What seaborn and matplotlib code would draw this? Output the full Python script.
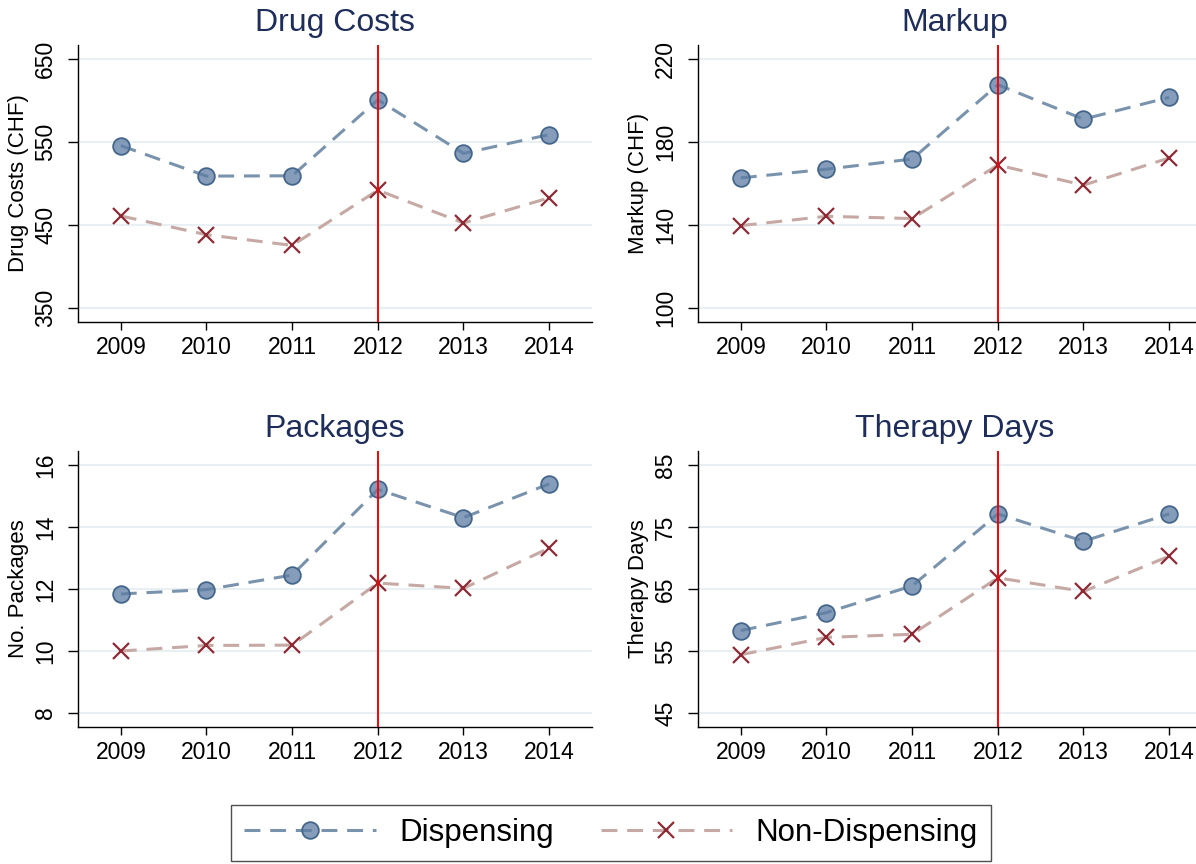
import pandas as pd
import matplotlib.pyplot as plt
import seaborn as sns

# values
years = [2009, 2010, 2011, 2012, 2013, 2014]

drug_costs_disp = [545.6, 508.9, 509.3, 600.8, 536.3, 558.9]
drug_costs_nondisp = [460.9, 438.3, 425.4, 492.0, 452.4, 482.7]
markup_disp = [162.7, 166.9, 171.8, 207.6, 191.0, 201.5]
markup_nondisp = [139.7, 144.2, 143.1, 168.9, 159.2, 172.3]
packages_disp = [11.84, 11.98, 12.45, 15.21, 14.30, 15.39]
packages_nondisp = [10.00, 10.18, 10.19, 12.19, 12.02, 13.32]
therapy_disp = [58.3, 61.2, 65.5, 77.1, 72.7, 77.1]
therapy_nondisp = [54.4, 57.2, 57.7, 66.8, 64.6, 70.3]

titles = ['Drug Costs', 'Markup', 'Packages', 'Therapy Days']
ylabels = ['Drug Costs (CHF)', 'Markup (CHF)', 'No. Packages', 'Therapy Days']
yticks = [[350, 450, 550, 650], [100, 140, 180, 220], [8, 10, 12, 14, 16], [45, 55, 65, 75, 85]]
groups = ['Dispensing', 'Non-Dispensing']
reform_year = 2012

panels = [
    (drug_costs_disp, drug_costs_nondisp),
    (markup_disp, markup_nondisp),
    (packages_disp, packages_nondisp),
    (therapy_disp, therapy_nondisp),
]

sns.set_style('white')
plt.rcParams['font.family'] = ['Liberation Sans', 'DejaVu Sans']
plt.rcParams['text.color'] = 'black'
plt.rcParams['axes.labelcolor'] = 'black'
plt.rcParams['xtick.color'] = 'black'
plt.rcParams['ytick.color'] = 'black'

W, H = 1196, 864
fig = plt.figure(figsize=(W / 100, H / 100), dpi=100)

# axes boxes in pixels: left, top, width, height
boxes = [(78, 45, 514, 277), (698, 45, 514, 277),
         (78, 451, 514, 276), (698, 451, 514, 276)]

styles = {
    'Dispensing': dict(color='#7a93ad', marker='o', markersize=12,
                       markerfacecolor=(0.36, 0.49, 0.64, 0.75),
                       markeredgecolor='#44668c', markeredgewidth=1.3),
    'Non-Dispensing': dict(color='#c6a9a4', marker='x', markersize=11,
                           markeredgecolor='#8e2a35', markeredgewidth=1.6),
}

for i, (disp, nondisp) in enumerate(panels):
    l, t, w, h = boxes[i]
    ax = fig.add_axes([l / W, 1 - (t + h) / H, w / W, h / H])
    df = pd.DataFrame({'year': years * 2,
                       'value': disp + nondisp,
                       'group': [groups[0]] * 6 + [groups[1]] * 6})
    for g in groups:
        sns.lineplot(data=df[df['group'] == g], x='year', y='value', ax=ax,
                     errorbar=None, legend=False, label=g,
                     linewidth=2.2, linestyle=(0, (5.2, 3.2)), **styles[g])
    ax.axvline(reform_year, color='#ff0000', lw=1.4, zorder=4)

    lo, hi = yticks[i][0], yticks[i][-1]
    d = (hi - lo) * 0.0562
    ax.set_ylim(lo - d, hi + d)
    ax.set_yticks(yticks[i])
    ax.set_xlim(2008.5, 2014.5)
    ax.set_xticks(years)

    ax.yaxis.grid(True, color='#e9f0f3', lw=1.5)
    ax.xaxis.grid(False)
    ax.set_axisbelow(True)
    sns.despine(ax=ax)
    for s in ['left', 'bottom']:
        ax.spines[s].set_color('black')
        ax.spines[s].set_linewidth(1.0)

    ax.tick_params(axis='y', left=True, length=7, width=1, color='black',
                   labelcolor='black', labelrotation=90, pad=8, labelsize=16.5)
    ax.tick_params(axis='x', bottom=True, length=6, width=1, color='black',
                   labelcolor='black', pad=4, labelsize=16.5)
    for lab in ax.get_yticklabels():
        lab.set_va('center')

    ax.set_xlabel('')
    ax.set_ylabel(ylabels[i], fontsize=16, labelpad=4, color='black')
    ax.set_title(titles[i], fontsize=23, color='#1f2d5a', pad=10)

handles, labels = fig.axes[0].get_legend_handles_labels()
leg = fig.legend(handles, labels, loc='center', ncol=2,
                 bbox_to_anchor=(611 / W, 1 - 833 / H), fontsize=22.5,
                 frameon=True, fancybox=False, handlelength=4.2,
                 handletextpad=0.75, columnspacing=1.5, borderpad=0.42,
                 borderaxespad=0.3, numpoints=1)
leg.get_frame().set_edgecolor('#222222')
leg.get_frame().set_linewidth(1.0)
for txt in leg.get_texts():
    txt.set_color('black')

fig.savefig('out.png', dpi=100)
